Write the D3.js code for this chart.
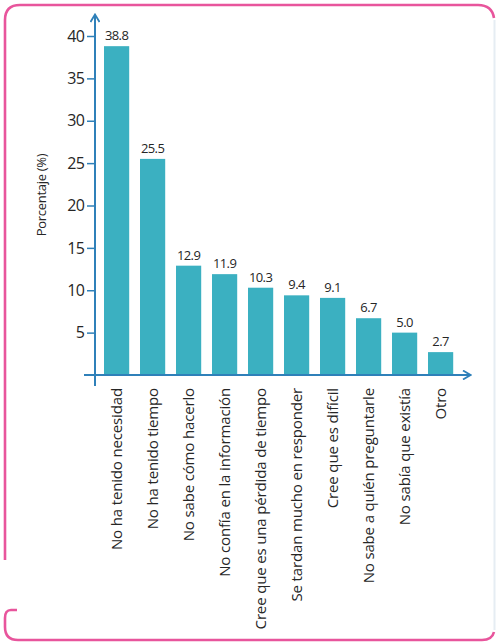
<!DOCTYPE html>
<html>
<head>
<meta charset="utf-8">
<script src="https://cdnjs.cloudflare.com/ajax/libs/d3/7.8.5/d3.min.js"></script>
<style>
  html, body { margin: 0; padding: 0; background: #ffffff; }
  svg { display: block; font-family: "Open Sans", "Liberation Sans", sans-serif; }
</style>
</head>
<body>
<div id="chart"></div>
<script>
// chart data
var categories = [
  "No ha tenido necesidad",
  "No ha tenido tiempo",
  "No sabe cómo hacerlo",
  "No confía en la información",
  "Cree que es una pérdida de tiempo",
  "Se tardan mucho en responder",
  "Cree que es difícil",
  "No sabe a quién preguntarle",
  "No sabía que existía",
  "Otro"
];
var values = [38.8, 25.5, 12.9, 11.9, 10.3, 9.4, 9.1, 6.7, 5.0, 2.7];
var yTicks = [5, 10, 15, 20, 25, 30, 35, 40];
var yLabel = "Porcentaje (%)";

var W = 496, H = 644;
var barColor = "#3bb0c1",
    axisColor = "#2f80b9",
    frameColor = "#e8559c",
    textColor = "#262626";

var svg = d3.select("#chart").append("svg")
    .attr("width", W)
    .attr("height", H);

// frame around the figure
var frame = svg.append("g")
    .attr("fill", "none")
    .attr("stroke", frameColor)
    .attr("stroke-width", 2.6);

frame.append("path")
    .attr("d", "M5,560 L5,20 Q5,5 20,5 L478,5 Q492,5 494,18");
frame.append("path")
    .attr("d", "M17,610 L11,610 Q5,610 5,618 L5,627 Q5,640 18,640 L482,640 Q492,640 494,632");
svg.append("line")
    .attr("x1", 494.5).attr("x2", 494.5)
    .attr("y1", 20).attr("y2", 630)
    .attr("stroke", "#e6edf3")
    .attr("stroke-width", 2);

// scales
var x = d3.scaleBand()
    .domain(categories)
    .range([98.6, 458.6])
    .paddingInner(0.3)
    .paddingOuter(0.15);

var y = d3.scaleLinear()
    .domain([0, 40])
    .range([375, 36]);

// arrow heads
var defs = svg.append("defs");
defs.append("marker")
    .attr("id", "arrow")
    .attr("viewBox", "0 0 10 10")
    .attr("refX", 8).attr("refY", 5)
    .attr("markerWidth", 10).attr("markerHeight", 10)
    .attr("markerUnits", "userSpaceOnUse")
    .attr("orient", "auto")
  .append("path")
    .attr("d", "M1,0.5 L8.5,5 L1,9.5")
    .attr("fill", "none")
    .attr("stroke", axisColor)
    .attr("stroke-width", 1.8);

// bars
svg.append("g").selectAll("rect")
    .data(values)
    .enter().append("rect")
      .attr("x", function(d, i) { return x(categories[i]); })
      .attr("y", function(d) { return y(d); })
      .attr("width", x.bandwidth())
      .attr("height", function(d) { return y(0) - y(d); })
      .attr("fill", barColor);

// value labels
svg.append("g").selectAll("text")
    .data(values)
    .enter().append("text")
      .attr("x", function(d, i) { return x(categories[i]) + x.bandwidth() / 2; })
      .attr("y", function(d) { return y(d) - 6; })
      .attr("text-anchor", "middle")
      .style("font-size", "13px")
      .style("letter-spacing", "-0.6px")
      .style("fill", textColor)
      .text(function(d) { return d.toFixed(1); });

// y axis
var gy = svg.append("g")
    .attr("transform", "translate(95,0)")
    .call(d3.axisLeft(y).tickValues(yTicks).tickSize(8).tickSizeOuter(0).tickPadding(3));
gy.select(".domain").remove();
gy.selectAll(".tick line").attr("stroke", axisColor).attr("stroke-width", 1.5);
gy.selectAll(".tick text")
    .style("font-size", "16px")
    .style("letter-spacing", "-0.8px")
    .style("font-family", "'Open Sans', sans-serif")
    .attr("fill", textColor);

svg.append("line")
    .attr("x1", 95).attr("x2", 95)
    .attr("y1", 386).attr("y2", 15)
    .attr("stroke", axisColor)
    .attr("stroke-width", 2)
    .attr("marker-end", "url(#arrow)");

// x axis
var gx = svg.append("g")
    .attr("transform", "translate(0,375)")
    .call(d3.axisBottom(x).tickSize(0).tickPadding(0));
gx.select(".domain").remove();
gx.selectAll(".tick text")
    .attr("transform", "rotate(-90)")
    .attr("x", -13)
    .attr("y", 0)
    .attr("dy", "0.35em")
    .style("text-anchor", "end")
    .style("font-size", "15px")
    .style("letter-spacing", "-0.15px")
    .style("font-family", "'Open Sans', sans-serif")
    .attr("fill", textColor);

svg.append("line")
    .attr("x1", 84).attr("x2", 470)
    .attr("y1", 375).attr("y2", 375)
    .attr("stroke", axisColor)
    .attr("stroke-width", 2)
    .attr("marker-end", "url(#arrow)");

// y axis title
svg.append("text")
    .attr("transform", "translate(41,195) rotate(-90)")
    .attr("text-anchor", "middle")
    .attr("dy", "0.35em")
    .style("font-size", "13px")
    .style("letter-spacing", "-0.3px")
    .style("fill", textColor)
    .text(yLabel);
</script>
</body>
</html>
